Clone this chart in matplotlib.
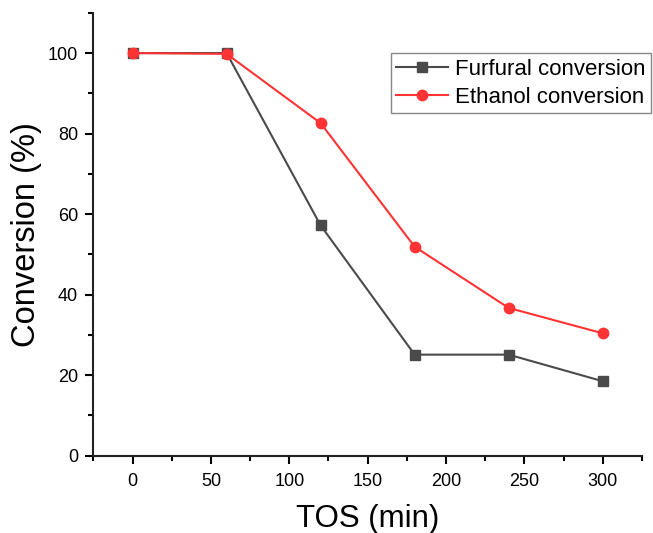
import matplotlib
matplotlib.use("Agg")
import matplotlib.pyplot as plt
from matplotlib.ticker import MultipleLocator

plt.rcParams['font.family'] = ['Liberation Sans', 'DejaVu Sans']

tos = [0, 60, 120, 180, 240, 300]
furfural = [100, 100, 57.2, 25.1, 25.1, 18.5]
ethanol = [100, 99.8, 82.6, 51.9, 36.7, 30.4]

fig = plt.figure(figsize=(6.53, 5.33), dpi=100)
ax = fig.add_axes([0.143, 0.145, 0.84, 0.831])

ax.plot(tos, furfural, color='#4a4a4a', marker='s', markersize=7, lw=1.5,
        label='Furfural conversion')
ax.plot(tos, ethanol, color='#ff3333', marker='o', markersize=7.5, lw=1.5,
        label='Ethanol conversion')

ax.set_xlim(-25, 325)
ax.set_ylim(0, 110)
ax.xaxis.set_major_locator(MultipleLocator(50))
ax.xaxis.set_minor_locator(MultipleLocator(25))
ax.yaxis.set_major_locator(MultipleLocator(20))
ax.yaxis.set_minor_locator(MultipleLocator(10))

for s in ['top', 'right']:
    ax.spines[s].set_visible(False)
for s in ['left', 'bottom']:
    ax.spines[s].set_linewidth(1.5)
    ax.spines[s].set_color('#222222')

ax.tick_params(which='major', direction='out', length=6, width=1.5, labelsize=13, pad=5)
ax.tick_params(axis='x', which='major', pad=6.5)
ax.tick_params(which='minor', direction='out', length=3.5, width=1.5)

ax.set_xlabel('TOS (min)', fontsize=22.5, labelpad=10)
ax.set_ylabel('Conversion (%)', fontsize=23.5, labelpad=4.5)

leg = ax.legend(loc='upper right', bbox_to_anchor=(0.997, 0.9), bbox_transform=fig.transFigure,
                borderaxespad=0, fontsize=16,
                fancybox=False, edgecolor='#888888', framealpha=1,
                handlelength=2.35, borderpad=0.25, labelspacing=0.3, handletextpad=0.3)
leg.get_frame().set_linewidth(1)

fig.savefig('out.png', dpi=100)
